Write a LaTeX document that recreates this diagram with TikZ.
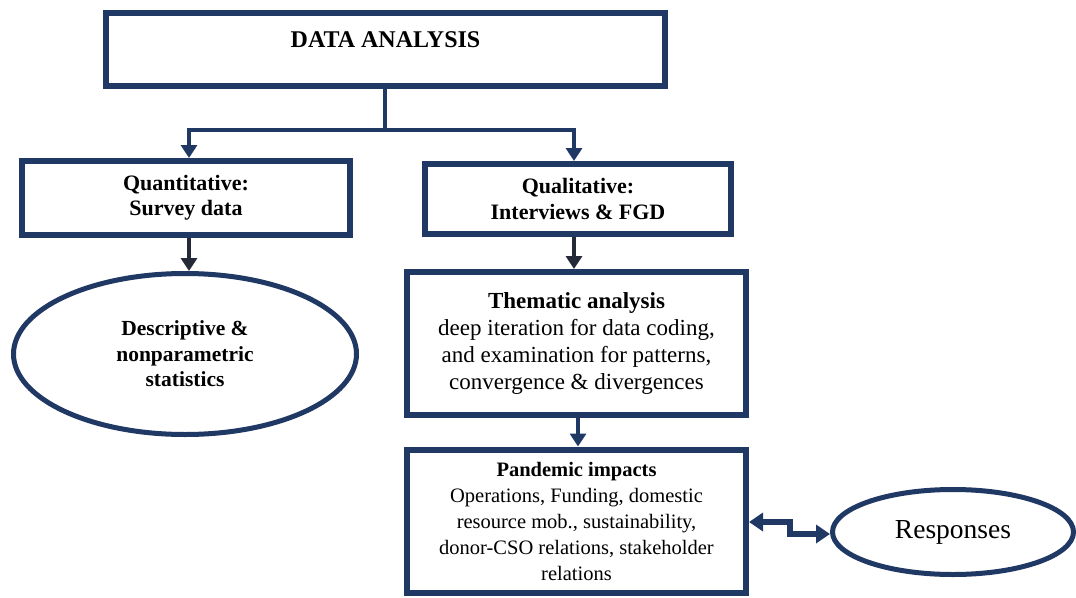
\documentclass[tikz,border=0pt]{standalone}
\usepackage{fontspec}
\setmainfont{Liberation Serif}
\usetikzlibrary{arrows.meta,shapes.geometric,calc}
\definecolor{navy}{RGB}{31,56,100}
\definecolor{darkarr}{RGB}{36,42,56}
\tikzset{
  box/.style={draw=navy,line width=6pt,rectangle,inner sep=0pt,align=center,fill=white},
  oval/.style={draw=navy,line width=5pt,ellipse,inner sep=0pt,align=center,fill=white},
  conn/.style={draw=navy,line width=4pt,-{Triangle[width=16pt,length=13pt]}},
  darkconn/.style={draw=darkarr,line width=4pt,-{Triangle[width=16pt,length=13pt]}},
  dbl/.style={draw=navy,line width=6pt,{Triangle[width=18pt,length=14pt]}-{Triangle[width=18pt,length=14pt]}},
}
\begin{document}
\begin{tikzpicture}[x=1pt,y=-1pt]
\useasboundingbox (0,0) rectangle (1076,597);
\node[box,minimum width=559pt,minimum height=73pt,text height=15pt,text depth=19pt,
  font=\fontsize{24}{26}\selectfont\bfseries] (top) at (385.5,49.5) {DATA ANALYSIS};
\node[box,minimum width=328pt,minimum height=74pt,
  font=\fontsize{22}{25}\selectfont\bfseries] (quant) at (186,198) {Quantitative:\\Survey data};
\node[box,minimum width=306pt,minimum height=70pt,
  font=\fontsize{22}{26}\selectfont\bfseries] (qual) at (578,199) {Qualitative:\\Interviews \& FGD};
\node[oval,minimum width=343pt,minimum height=161pt,
  font=\fontsize{21.5}{25.5}\selectfont\bfseries] (desc) at (185,354) {Descriptive \&\\nonparametric\\statistics};
\node[box,minimum width=339pt,minimum height=143pt,
  font=\fontsize{23}{27}\selectfont] (them) at (576.5,343.5)
  {\textbf{Thematic analysis}\\deep iteration for data coding,\\and examination for patterns,\\convergence \& divergences};
\node[box,minimum width=339pt,minimum height=143pt,
  font=\fontsize{20.5}{26}\selectfont] (pand) at (576.5,521)
  {\textbf{Pandemic impacts}\\Operations, Funding, domestic\\resource mob., sustainability,\\donor-CSO relations, stakeholder\\relations};
\node[oval,minimum width=241pt,minimum height=85pt,
  font=\fontsize{27.5}{30}\selectfont] (resp) at (953,532) {Responses};
% connectors
\coordinate (split) at (385,130);
\coordinate (lq) at (189,130);
\coordinate (rq) at (574,130);
\draw[navy,line width=4pt] (top.south -| split) -- (split);
\draw[navy,line width=4pt,line cap=rect] (lq) -- (rq);
\draw[conn] (lq) -- (lq |- quant.north);
\draw[conn] (rq) -- (rq |- qual.north);
\coordinate (qd) at (189,0);
\draw[darkconn] (qd |- quant.south) -- (qd |- desc.north);
\coordinate (td) at (574,0);
\draw[darkconn] (td |- qual.south) -- (td |- them.north);
\coordinate (tp) at (578,0);
\draw[conn] (tp |- them.south) -- (tp |- pand.north);
\coordinate (st1) at (790,522);
\coordinate (st2) at (790,534);
\draw[dbl] (pand.east |- st1) -- (st1) -- (st2) -- (resp.west |- st2);
\end{tikzpicture}
\end{document}
